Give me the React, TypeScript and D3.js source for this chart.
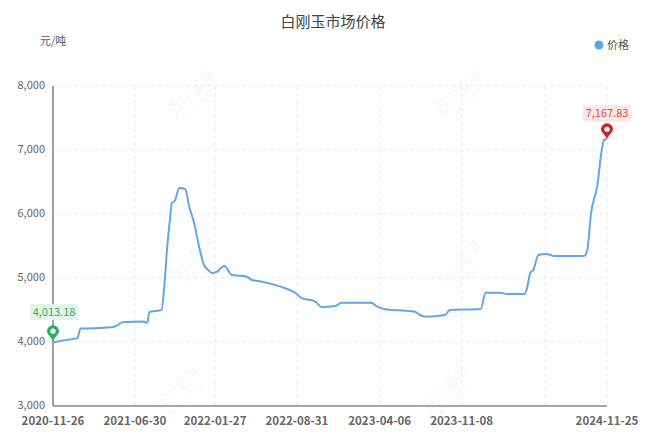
import * as d3 from "d3";

const WIDTH = 666;
const HEIGHT = 436;
const margin = { top: 86, right: 56, bottom: 30, left: 53 };

const TITLE = "白刚玉市场价格";
const UNIT = "元/吨";
const SERIES_NAME = "价格";

const Y_TICKS = [3000, 4000, 5000, 6000, 7000, 8000];
const X_LABELS = ["2020-11-26", "2021-06-30", "2022-01-27", "2022-08-31", "2023-04-06", "2023-11-08", "2024-11-25"];
const X_GRID = ["2021-06-30", "2022-01-27", "2022-08-31", "2023-04-06", "2023-11-08", "2024-06-15", "2024-11-25"];

// price readings (date, 元/吨)
const DATES = [
  "2020-11-26", "2020-11-30", "2020-12-14", "2021-01-10", "2021-01-30", "2021-02-06",
  "2021-03-10", "2021-05-07", "2021-05-14", "2021-05-28", "2021-07-25", "2021-07-29",
  "2021-08-02", "2021-08-07", "2021-09-08", "2021-09-16", "2021-09-23", "2021-09-30",
  "2021-10-05", "2021-10-13", "2021-10-25", "2021-11-09", "2021-11-20", "2021-12-03",
  "2021-12-16", "2021-12-29", "2022-01-10", "2022-01-19", "2022-02-01", "2022-02-20",
  "2022-03-13", "2022-04-21", "2022-05-04", "2022-05-22", "2022-06-18", "2022-07-22",
  "2022-08-27", "2022-09-12", "2022-10-19", "2022-11-03", "2022-12-10", "2022-12-26",
  "2023-03-15", "2023-03-28", "2023-05-06", "2023-06-12", "2023-07-08", "2023-07-21",
  "2023-08-06", "2023-09-25", "2023-10-08", "2023-12-28", "2024-01-10", "2024-02-16",
  "2024-03-08", "2024-04-21", "2024-04-27", "2024-05-07", "2024-05-15", "2024-05-28",
  "2024-06-18", "2024-07-09", "2024-09-26", "2024-10-04", "2024-10-14", "2024-10-30",
  "2024-11-12", "2024-11-17", "2024-11-25",
];
const PRICES = [
  4013.18, 4000, 4015, 4040, 4060, 4210,
  4215, 4240, 4260, 4310, 4320, 4300,
  4310, 4470, 4500, 4922, 5484, 5900,
  6170, 6208, 6406, 6390, 6114, 5859,
  5490, 5203, 5120, 5078, 5098, 5188,
  5047, 5020, 4969, 4953, 4917, 4859,
  4766, 4688, 4630, 4547, 4562, 4614,
  4614, 4562, 4500, 4490, 4474, 4422,
  4396, 4422, 4500, 4516, 4770, 4770,
  4750, 4750, 4813, 5078, 5125, 5359,
  5375, 5344, 5344, 5437, 6015, 6427,
  7031, 7156, 7167.83,
];

const WATERMARKS: [number, number][] = [
  [195, 95], [462, 95], [195, 262], [462, 268], [180, 392], [448, 392],
];

const parse = d3.timeParse("%Y-%m-%d");
const data = DATES.map((d, i) => ({ date: parse(d) as Date, value: PRICES[i] }));

function Pin({ x, y, color }: { x: number; y: number; color: string }) {
  // pin tip sits on the data point
  const r = 6;
  const cy = y - 10;
  const path = `M${x},${y} C${x - 2},${cy + 5} ${x - r},${cy + 3} ${x - r},${cy} A${r},${r} 0 1 1 ${x + r},${cy} C${x + r},${cy + 3} ${x + 2},${cy + 5} ${x},${y} Z`;
  return (
    <g>
      <path d={path} fill={color} />
      <circle cx={x} cy={cy} r={2.6} fill="#fff" />
    </g>
  );
}

export default function App() {
  const x = d3
    .scaleTime()
    .domain([parse("2020-11-26") as Date, parse("2024-11-25") as Date])
    .range([margin.left, WIDTH - margin.right - 3]);
  const y = d3.scaleLinear().domain([3000, 8000]).range([HEIGHT - margin.bottom, margin.top]);
  const fmt = d3.format(",");
  const fmt2 = d3.format(",.2f");

  const line = d3
    .line<{ date: Date; value: number }>()
    .x((d) => x(d.date))
    .y((d) => y(d.value))
    .curve(d3.curveMonotoneX);

  const first = data[0];
  const last = data[data.length - 1];
  const x0 = margin.left;
  const x1 = x(parse("2024-11-25") as Date);
  const yBottom = y(3000);

  return (
    <div style={{ position: "absolute", left: 0, top: 0 }}>
      <svg width={WIDTH} height={HEIGHT} style={{ fontFamily: "'Noto Sans CJK SC', 'Noto Sans', sans-serif", background: "#fff" }}>
        <text x={333} y={27} textAnchor="middle" fontSize={15} fill="#444">{TITLE}</text>
        <text x={40} y={45} fontSize={11} fill="#555">{UNIT}</text>
        <circle cx={599} cy={45} r={4.5} fill="#5aa6e6" />
        <text x={607} y={49} fontSize={11} fill="#555">{SERIES_NAME}</text>

        {/* watermark */}
        {WATERMARKS.map(([wx, wy], i) => (
          <g key={i} transform={`translate(${wx},${wy}) rotate(-45)`} fill="#000" fillOpacity={0.06}>
            <text textAnchor="middle" fontSize={15} y={0}>百川盈孚</text>
            <text textAnchor="middle" fontSize={9} y={13} letterSpacing={1}>BAIINFO</text>
          </g>
        ))}

        {/* grid */}
        {Y_TICKS.filter((t) => t > 3000).map((t) => (
          <line key={t} x1={x0} x2={x1} y1={y(t)} y2={y(t)} stroke="#ebebeb" strokeDasharray="4,3" />
        ))}
        {X_GRID.map((d) => {
          const gx = x(parse(d) as Date);
          return <line key={d} x1={gx} x2={gx} y1={margin.top} y2={yBottom} stroke="#ebebeb" strokeDasharray="4,3" />;
        })}

        {/* axes */}
        <line x1={x0} x2={x0} y1={margin.top} y2={yBottom} stroke="#8a8a8a" strokeWidth={1.6} />
        <line x1={x0} x2={x1} y1={yBottom} y2={yBottom} stroke="#8a8a8a" strokeWidth={1.6} />
        {Y_TICKS.map((t) => (
          <text key={t} x={45} y={y(t) + 3} textAnchor="end" fontSize={11} fill="#666">{fmt(t)}</text>
        ))}
        {X_LABELS.map((d) => (
          <text key={d} x={x(parse(d) as Date)} y={yBottom + 19} textAnchor="middle" fontSize={11.5} fill="#666" fontWeight={600}>{d}</text>
        ))}

        {/* series */}
        <path d={line(data) ?? ""} fill="none" stroke="#62a8e4" strokeWidth={2} strokeLinejoin="round" />

        {/* start / end markers */}
        <g>
          <rect x={x(first.date) - 23} y={y(first.value) - 37} width={48} height={16} fill="#e3f5e9" />
          <text x={x(first.date) + 1} y={y(first.value) - 25} textAnchor="middle" fontSize={11} fill="#2cb567">{fmt2(first.value)}</text>
          <Pin x={x(first.date)} y={y(first.value)} color="#25b060" />
        </g>
        <g>
          <rect x={x(last.date) - 24} y={y(last.value) - 34} width={48} height={16} fill="#fce6e6" />
          <text x={x(last.date)} y={y(last.value) - 22} textAnchor="middle" fontSize={11} fill="#d9534f">{fmt2(last.value)}</text>
          <Pin x={x(last.date)} y={y(last.value)} color="#c4262b" />
        </g>
      </svg>
    </div>
  );
}
